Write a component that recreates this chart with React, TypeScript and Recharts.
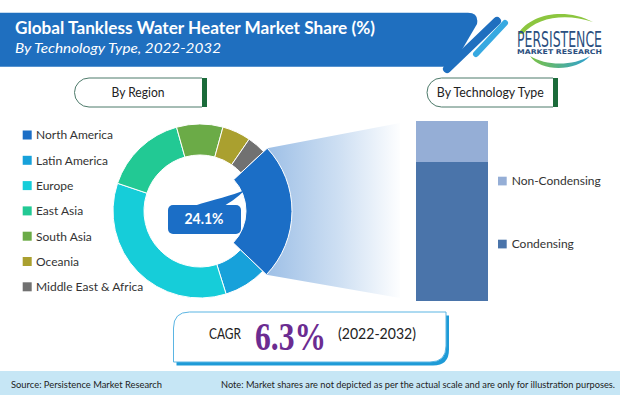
import React from "react";
import { PieChart, Pie, Cell, BarChart, Bar, XAxis, YAxis } from "recharts";

// ---------- data ----------
const regionNames = [
  "North America",
  "Latin America",
  "Europe",
  "East Asia",
  "South Asia",
  "Oceania",
  "Middle East & Africa",
];
const regionShares = [24.1, 8.0, 35.0, 15.5, 8.6, 5.3, 3.5];
const regionColors = ["#1b6ec6", "#17a1da", "#16cdd9", "#22c994", "#6bab47", "#aaa02f", "#717171"];
const highlightIndex = 0;

const techNames = ["Condensing", "Non-Condensing"];
const techShares = [77.2, 22.8];
const techColors = ["#4a74aa", "#95aed6"];

const titleText = "Global Tankless Water Heater Market Share (%)";
const subtitleText = "By Technology Type, 2022-2032";
const cagrLabel = "CAGR";
const cagrValue = "6.3%";
const cagrPeriod = "(2022-2032)";
const sourceText = "Source: Persistence Market Research";
const noteText =
  "Note: Market shares are not depicted as per the actual scale and are only for illustration purposes.";

// ---------- layout ----------
const CX = 200;
const CY = 211;
const PIE_BOX = 200;
const START = 43;
const FONT = "Lato, 'Open Sans', sans-serif";

const regionData = regionNames.map((name, i) => ({ name, value: regionShares[i] }));
const techRow: Record<string, any> = { name: "Technology" };
techNames.forEach((n, i) => (techRow[n] = techShares[i]));
const techData = [techRow];

const total = regionShares.reduce((a, b) => a + b, 0);
const hlStart = START - (regionShares.slice(0, highlightIndex).reduce((a, b) => a + b, 0) / total) * 360;
const hlEnd = hlStart - (regionShares[highlightIndex] / total) * 360;
const rad = (a: number) => (a * Math.PI) / 180;
const RH = 92;
const p1 = [CX + RH * Math.cos(rad(hlStart)), CY - RH * Math.sin(rad(hlStart))];
const p2 = [CX + RH * Math.cos(rad(hlEnd)), CY - RH * Math.sin(rad(hlEnd))];
const fanPath = `M${p1[0]},${p1[1]} L400,123 L400,298 L${p2[0]},${p2[1]} A${RH},${RH} 0 0 0 ${p1[0]},${p1[1]} Z`;

const legendRows = [135, 160.3, 185.6, 210.9, 236.2, 261.5, 286.8];

export default function App() {
  return (
    <div
      style={{
        position: "absolute",
        left: 0,
        top: 0,
        width: 620,
        height: 395,
        background: "#ffffff",
        overflow: "hidden",
        fontFamily: FONT,
      }}
    >
      <svg width={620} height={395} style={{ position: "absolute", left: 0, top: 0 }}>
        <defs>
          <linearGradient id="fanGrad" x1="266" y1="0" x2="402" y2="0" gradientUnits="userSpaceOnUse">
            <stop offset="0" stopColor="#9dbfe6" />
            <stop offset="0.55" stopColor="#cfe0f3" />
            <stop offset="1" stopColor="#ffffff" />
          </linearGradient>
          <linearGradient id="swoosh" x1="530" y1="0" x2="592" y2="0" gradientUnits="userSpaceOnUse">
            <stop offset="0" stopColor="#7cc243" />
            <stop offset="1" stopColor="#2a9fd8" />
          </linearGradient>
        </defs>

        {/* header banner */}
        <path d="M0,12.7 L468,12.7 Q479,12.7 477,24 L452,66.7 L0,66.7 Z" fill="#1f6fbf" />
        <line x1={497} y1={21} x2={447} y2={69} stroke="#1f6fbf" strokeWidth={8} strokeLinecap="round" />
        <line x1={505} y1={23} x2={476} y2={54} stroke="#37a9e1" strokeWidth={6} strokeLinecap="round" />
        <text x={15} y={34.3} fill="#ffffff" fontSize={16.5} fontWeight={700} textLength={360} lengthAdjust="spacingAndGlyphs">
          {titleText}
        </text>
        <text x={15} y={53.3} fill="#ffffff" fontSize={14} fontStyle="italic" textLength={206} lengthAdjust="spacingAndGlyphs">
          {subtitleText}
        </text>

        {/* logo */}
        <path d="M518,34 C530,14 565,7 593,22 C566,13 537,17 523,34 Z" fill="#8cc63f" />
        <path d="M530,56 C540,72 576,72 590,56 C573,66 546,66 530,56 Z" fill="url(#swoosh)" />
        <text
          transform="translate(517,46.5) scale(1,1.55)"
          x={0}
          y={0}
          fill="#2b4f80"
          fontSize={13.5}
          fontFamily="'DejaVu Sans Condensed', 'DejaVu Sans', sans-serif"
          textLength={85}
          lengthAdjust="spacingAndGlyphs"
        >
          PERSISTENCE
        </text>
        <text x={517} y={54} fill="#2b4f80" fontSize={6.5} fontWeight={700} fontFamily="'DejaVu Sans', sans-serif" textLength={85} lengthAdjust="spacingAndGlyphs">
          MARKET RESEARCH
        </text>

        {/* pills */}
        <path d="M202,78 L89,78 A14.5,14.5 0 0 0 89,107 L202,107" fill="#ffffff" stroke="#4d7a6a" strokeWidth={1} />
        <rect x={202} y={78} width={5} height={29} fill="#1b6b3a" />
        <text x={138} y={96.8} textAnchor="middle" fontSize={13} fill="#222" textLength={53} lengthAdjust="spacingAndGlyphs">
          By Region
        </text>
        <path d="M553,78 L441.5,78 A14.5,14.5 0 0 0 441.5,107 L553,107" fill="#ffffff" stroke="#4d7a6a" strokeWidth={1} />
        <rect x={553} y={78} width={5} height={29} fill="#1b6b3a" />
        <text x={490.3} y={96.8} textAnchor="middle" fontSize={13} fill="#222" textLength={107} lengthAdjust="spacingAndGlyphs">
          By Technology Type
        </text>

        {/* region legend */}
        {regionNames.map((n, i) => (
          <g key={n}>
            <rect x={22.7} y={legendRows[i] - 4.5} width={9} height={9} fill={regionColors[i]} />
            <text x={36} y={legendRows[i] + 4.3} fontSize={12} fill="#333">
              {n}
            </text>
          </g>
        ))}

        {/* fan connector */}
        <path d={fanPath} fill="url(#fanGrad)" />

        {/* tech legend */}
        {[1, 0].map((i, k) => {
          const cy = k === 0 ? 181 : 244;
          return (
            <g key={techNames[i]}>
              <rect x={498} y={cy - 4.3} width={8.7} height={8.7} fill={techColors[i]} />
              <text x={511.7} y={cy + 4.3} fontSize={12} fill="#333">
                {techNames[i]}
              </text>
            </g>
          );
        })}

        {/* CAGR box */}
        <path d="M176.5,331.5 Q176.5,315.5 192.5,315.5 L449,315.5 L449,349.5 Q449,365.5 433,365.5 L176.5,365.5 Z" fill="#1e9bd7" />
        <path d="M173.5,328 Q173.5,312 189.5,312 L446,312 L446,346 Q446,362 430,362 L173.5,362 Z" fill="#ffffff" stroke="#5bb5e3" strokeWidth={1} />
        <text x={209} y={338.6} fontSize={15.5} fill="#222" textLength={32} lengthAdjust="spacingAndGlyphs">
          {cagrLabel}
        </text>
        <text x={255} y={350} fontSize={39} fontWeight={700} fill="#6b2c91" fontFamily="'Liberation Serif', serif" textLength={71} lengthAdjust="spacingAndGlyphs">
          {cagrValue}
        </text>
        <text x={338} y={338.6} fontSize={15.5} fill="#222" textLength={78} lengthAdjust="spacingAndGlyphs">
          {cagrPeriod}
        </text>

        {/* footer */}
        <rect x={0} y={371} width={620} height={24} fill="#c6e6f5" />
        <text x={11} y={387.5} fontSize={9.5} fill="#222" textLength={151} lengthAdjust="spacingAndGlyphs">
          {sourceText}
        </text>
        <text x={221} y={387.5} fontSize={8.8} fill="#222" textLength={394} lengthAdjust="spacingAndGlyphs">
          {noteText}
        </text>
      </svg>

      {/* donut */}
      <div style={{ position: "absolute", left: CX - PIE_BOX / 2, top: CY - PIE_BOX / 2, width: PIE_BOX, height: PIE_BOX }}>
        <PieChart width={PIE_BOX} height={PIE_BOX} margin={{ top: 0, right: 0, bottom: 0, left: 0 }}>
          <Pie
            data={regionData}
            dataKey="value"
            cx={PIE_BOX / 2}
            cy={PIE_BOX / 2}
            innerRadius={56}
            outerRadius={87}
            startAngle={START}
            endAngle={START - 360}
            isAnimationActive={false}
          >
            {regionData.map((d, i) => (
              <Cell
                key={d.name}
                fill={i === highlightIndex ? "none" : regionColors[i]}
                stroke={i === highlightIndex ? "none" : "#ffffff"}
                strokeWidth={1}
              />
            ))}
          </Pie>
          <Pie
            data={regionData}
            dataKey="value"
            cx={PIE_BOX / 2}
            cy={PIE_BOX / 2}
            innerRadius={46}
            outerRadius={RH}
            startAngle={START}
            endAngle={START - 360}
            isAnimationActive={false}
          >
            {regionData.map((d, i) => (
              <Cell
                key={d.name}
                fill={i === highlightIndex ? regionColors[i] : "none"}
                stroke={i === highlightIndex ? "#ffffff" : "none"}
                strokeWidth={1}
              />
            ))}
          </Pie>
        </PieChart>
      </div>

      {/* stacked bar */}
      <div style={{ position: "absolute", left: 416, top: 121, width: 72, height: 180 }}>
        <BarChart width={72} height={180} data={techData} margin={{ top: 0, right: 0, bottom: 0, left: 0 }} barCategoryGap={0}>
          <XAxis dataKey="name" hide />
          <YAxis hide domain={[0, 100]} />
          {techNames.map((n, i) => (
            <Bar key={n} dataKey={n} stackId="tech" fill={techColors[i]} isAnimationActive={false} />
          ))}
        </BarChart>
      </div>

      {/* center bubble */}
      <svg width={620} height={395} style={{ position: "absolute", left: 0, top: 0, pointerEvents: "none" }}>
        <path d="M194,206 C214,199 232,196 245,190 C237,198 229,203 224,206 Z" fill={regionColors[highlightIndex]} />
        <rect x={168} y={205} width={73} height={29} rx={5} fill={regionColors[highlightIndex]} />
        <text x={204} y={224} textAnchor="middle" fontSize={14.5} fontWeight={700} fill="#ffffff" textLength={39} lengthAdjust="spacingAndGlyphs">
          {`${regionShares[highlightIndex]}%`}
        </text>
      </svg>
    </div>
  );
}
